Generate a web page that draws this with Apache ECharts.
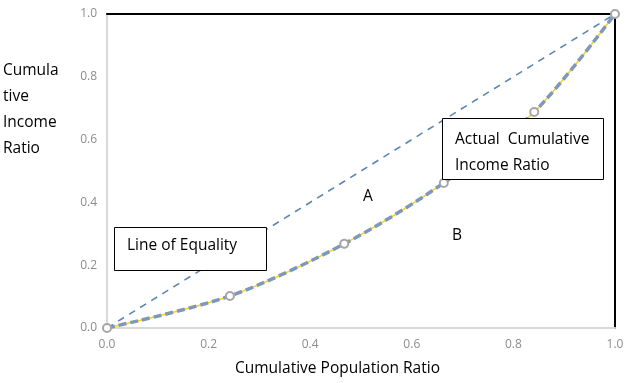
<!DOCTYPE html>
<html><head><meta charset="utf-8">
<script src="https://cdn.jsdelivr.net/npm/echarts@6/dist/echarts.min.js"></script>
<style>html,body{margin:0;padding:0;background:#fff}#c{width:630px;height:383px}</style>
</head><body><div id="c"></div>
<script>
var populationRatio = [0, 0.242, 0.467, 0.663, 0.841, 1.0];
var incomeRatio = [0, 0.102, 0.268, 0.462, 0.688, 1.0];
var equalityX = [0, 1];
var equalityY = [0, 1];
var tickValues = [0, 0.2, 0.4, 0.6, 0.8, 1.0];

var lorenz = populationRatio.map(function(x, i){ return [x, incomeRatio[i]]; });
var equality = equalityX.map(function(x, i){ return [x, equalityY[i]]; });
var font = '"Open Sans", "Noto Sans", sans-serif';

var chart = echarts.init(document.getElementById('c'));
chart.setOption({
  animation: false,
  grid: {left: 107, right: 15, top: 14, bottom: 55},
  xAxis: [{
    type: 'value', min: 0, max: 1, interval: 0.2,
    axisLine: {lineStyle: {color: '#d9d9d9', width: 2}},
    axisTick: {show: false}, splitLine: {show: false},
    axisLabel: {color: '#8c8c8c', fontSize: 12, fontFamily: font, margin: 11,
      formatter: function(v){ return v.toFixed(1); }}
  }, {
    type: 'value', min: 0, max: 1, position: 'top',
    axisLine: {show: true, onZero: false, lineStyle: {color: '#000', width: 2}},
    axisTick: {show: false}, axisLabel: {show: false}, splitLine: {show: false}
  }],
  yAxis: [{
    type: 'value', min: 0, max: 1, interval: 0.2,
    axisLine: {show: true, lineStyle: {color: '#d9d9d9', width: 2}},
    axisTick: {show: false}, splitLine: {show: false},
    axisLabel: {color: '#8c8c8c', fontSize: 12, fontFamily: font, margin: 10,
      formatter: function(v){ return v.toFixed(1); }}
  }, {
    type: 'value', min: 0, max: 1, position: 'right',
    axisLine: {show: true, onZero: false, lineStyle: {color: '#000', width: 2}},
    axisTick: {show: false}, axisLabel: {show: false}, splitLine: {show: false}
  }],
  series: [{
    type: 'line', data: equality, symbol: 'none',
    lineStyle: {color: '#5b87b3', width: 1.6, type: [7, 6]}
  }, {
    type: 'line', data: lorenz, smooth: 0.3, symbol: 'none',
    lineStyle: {color: '#f2d21b', width: 1.5}
  }, {
    type: 'line', data: lorenz, smooth: 0.3,
    symbol: 'circle', symbolSize: 8,
    itemStyle: {color: '#fff', borderColor: '#a6a6a6', borderWidth: 2},
    lineStyle: {color: '#7f97b8', width: 3.5, type: [8, 4]}, z: 3
  }],
  graphic: [
    {type: 'text', left: 3, top: 58, style: {text: 'Cumula\ntive\nIncome\nRatio', font: '15.5px ' + font, fill: '#000', lineHeight: 26}},
    {type: 'text', left: 235, top: 361, style: {text: 'Cumulative Population Ratio', font: '15.5px ' + font, fill: '#000'}},
    {type: 'rect', shape: {x: 114.5, y: 227.5, width: 152, height: 43}, style: {fill: '#fff', stroke: '#000', lineWidth: 1}, z: 10},
    {type: 'text', left: 127, top: 238, style: {text: 'Line of Equality', font: '15.5px ' + font, fill: '#000'}, z: 11},
    {type: 'rect', shape: {x: 442.5, y: 118.5, width: 161, height: 61}, style: {fill: '#fff', stroke: '#000', lineWidth: 1}, z: 10},
    {type: 'text', left: 455, top: 127, style: {text: 'Actual  Cumulative\nIncome Ratio', font: '15.5px ' + font, fill: '#000', lineHeight: 26}, z: 11},
    {type: 'text', left: 363, top: 189, style: {text: 'A', font: '15.5px ' + font, fill: '#000'}},
    {type: 'text', left: 452, top: 228, style: {text: 'B', font: '15.5px ' + font, fill: '#000'}}
  ]
});
</script></body></html>
